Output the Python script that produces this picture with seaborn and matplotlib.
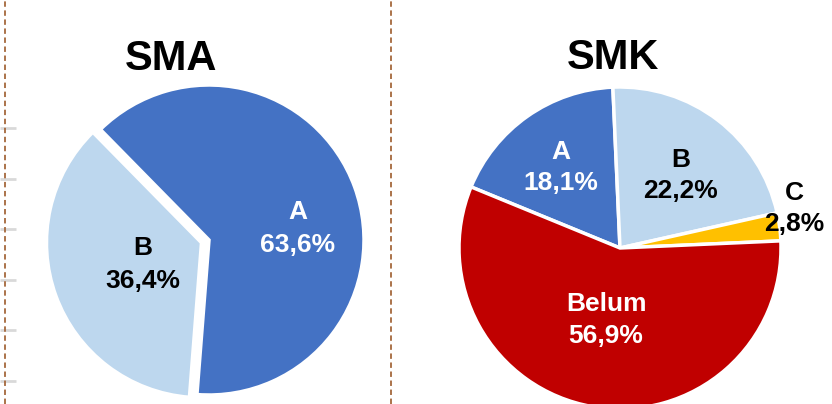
import matplotlib
matplotlib.use("Agg")
import matplotlib.pyplot as plt
import seaborn as sns

# data
sma_labels = ["A", "B"]
sma_values = [63.6, 36.4]
smk_labels = ["A", "B", "C", "Belum"]
smk_values = [18.1, 22.2, 2.8, 56.9]

colors = {"A": "#4472C4", "B": "#BDD7EE", "C": "#FFC000", "Belum": "#C00000"}
text_colors = {"A": "white", "B": "black", "C": "black", "Belum": "white"}

sns.set_theme(style="white")
plt.rcParams["font.family"] = ["Liberation Sans", "DejaVu Sans"]

W, H = 832, 404
fig = plt.figure(figsize=(8.32, 4.04), dpi=100)
ax = fig.add_axes([0, 0, 1, 1])


def py(y):
    # image row -> data y (pixel units, y up)
    return H - y


# left panel: SMA
ax.pie(sma_values, colors=[colors[l] for l in sma_labels],
       center=(209, py(240)), radius=155, startangle=134.5, counterclock=False,
       explode=[0, 8], wedgeprops=dict(edgecolor="white", linewidth=2.5),
       frame=True)

# right panel: SMK
ax.pie(smk_values, colors=[colors[l] for l in smk_labels],
       center=(620, py(248)), radius=161, startangle=157.7, counterclock=False,
       wedgeprops=dict(edgecolor="white", linewidth=2.5), frame=True)

# label anchors (pixel positions of the two text lines)
sma_pos = {"A": (298, 219, 252), "B": (143, 255, 288)}
smk_pos = {"A": (561, 159, 190), "B": (681, 167, 198), "C": (794, 200, 231),
           "Belum": (606, 311, 343)}

for labels, values, pos in [(sma_labels, sma_values, sma_pos),
                            (smk_labels, smk_values, smk_pos)]:
    for lab, val in zip(labels, values):
        x, y1, y2 = pos[lab]
        pct = f"{val:.1f}%".replace(".", ",")
        for txt, yy in [(lab, y1), (pct, y2)]:
            ax.text(x, py(yy), txt, ha="center", va="baseline", fontsize=19,
                    fontweight="bold", color=text_colors[lab])

# titles
ax.text(171, py(70), "SMA", ha="center", va="baseline", fontsize=30,
        fontweight="bold", color="black")
ax.text(613, py(69), "SMK", ha="center", va="baseline", fontsize=30,
        fontweight="bold", color="black")

# frame decorations: grey tick stubs and dotted separators
tick_rows = [128, 179, 229, 280, 330, 381]
ax.hlines([py(t) for t in tick_rows], 0, 16, color="#D9D9D9", linewidth=2)
for xv in [5, 391]:
    ax.axvline(xv, color="#A5683C", linestyle=(0, (3, 2)), linewidth=1.3)

ax.set_xlim(0, W)
ax.set_ylim(0, H)
ax.set_aspect("equal")
ax.axis("off")

fig.savefig("out.png", dpi=100)
